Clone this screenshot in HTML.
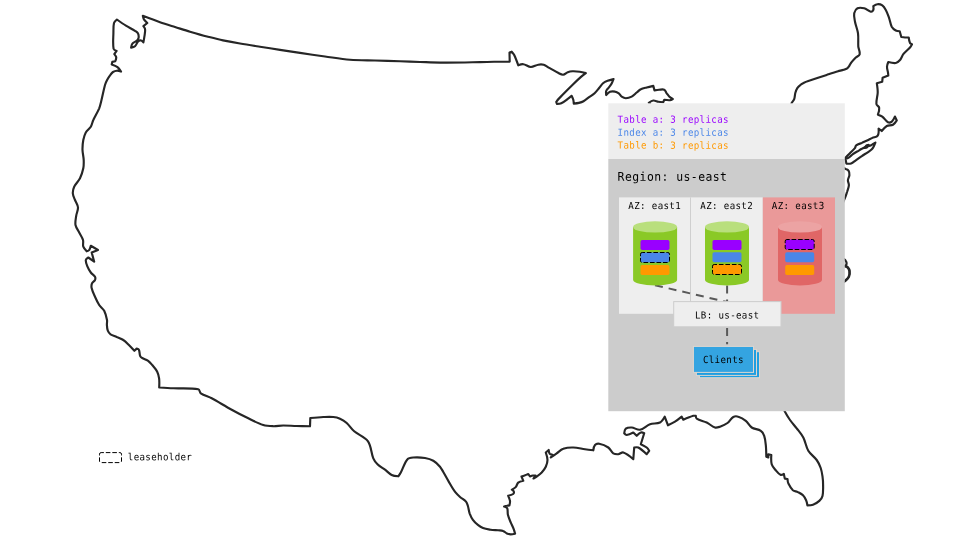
<!DOCTYPE html>
<html lang="en">
<head>
<meta charset="utf-8">
<title>Region us-east</title>
<style>
html,body{margin:0;padding:0;background:#fff;}
body{width:960px;height:540px;overflow:hidden;}
svg{display:block;will-change:transform;}
text{font-family:"DejaVu Sans Mono", "Liberation Mono", monospace;font-size:9.74px;letter-spacing:0.376px;fill:#000;}
.t{font-size:12.17px;letter-spacing:0.47px;}
</style>
</head>
<body>
<svg width="960" height="540" viewBox="0 0 960 540">
<rect width="960" height="540" fill="#fff"/>
<g fill="none" stroke="#262626" stroke-width="2.15" stroke-linejoin="round" stroke-linecap="round">
<path d="M655.0 110.0C655.0 110.0 648.8 102.8 648.8 102.8C648.8 102.8 651.7 100.7 653.3 100.5C654.9 100.3 656.7 101.4 658.3 101.7C659.9 102.0 663.2 102.2 663.2 102.2C663.2 102.2 664.3 99.8 664.3 99.8C664.3 99.8 668.2 100.4 670.0 100.2C671.0 100.1 672.8 99.0 672.8 99.0C672.8 99.0 670.2 97.5 669.2 96.5C668.3 95.6 667.5 94.3 666.7 93.3C665.9 92.2 665.5 90.3 664.2 89.7C662.7 89.0 660.7 89.7 659.0 89.8C657.6 89.9 654.5 90.4 654.5 90.4C654.5 90.4 653.3 85.9 653.3 85.9C653.3 85.9 648.8 86.9 646.7 87.5C644.8 88.0 642.6 88.4 640.8 89.3C639.3 90.0 638.0 91.5 636.7 92.5C635.1 93.8 633.5 95.6 631.7 96.6C630.0 97.5 627.8 98.2 625.8 98.2C624.4 98.2 622.9 97.4 621.7 96.6C620.5 95.8 619.9 94.2 618.8 93.4C617.7 92.6 616.3 91.8 615.0 91.6C613.4 91.3 611.5 91.2 610.0 91.8C608.5 92.4 606.2 95.0 606.2 95.0C606.2 95.0 605.8 92.2 606.2 91.0C606.6 89.8 607.8 88.8 608.5 87.8C609.4 86.6 610.6 85.4 611.3 84.1C612.2 82.6 613.5 79.1 613.5 79.1C613.5 79.1 609.4 80.1 607.6 80.8C606.0 81.4 604.3 82.2 603.0 83.3C601.6 84.5 600.5 86.4 599.3 87.8C597.8 89.6 596.3 91.7 594.6 93.3C593.0 94.8 590.9 95.9 589.1 97.2C587.3 98.5 585.4 100.1 583.5 101.2C582.1 102.0 580.4 102.5 578.9 102.9C577.3 103.3 573.8 103.6 573.8 103.6C573.8 103.6 573.6 101.0 573.3 99.8C572.9 98.5 571.6 95.8 571.6 95.8C571.6 95.8 569.1 98.0 567.8 98.9C565.8 100.4 563.6 102.2 561.3 103.2C560.0 103.8 557.0 103.9 557.0 103.9C557.0 103.9 556.0 102.3 556.4 101.7C558.1 99.0 560.9 96.6 563.1 94.3C566.0 91.3 569.4 87.9 572.4 85.0C575.0 82.4 578.0 79.5 580.7 77.1C582.3 75.7 585.8 73.1 585.8 73.1C585.8 73.1 581.8 72.0 579.8 71.7C577.4 71.4 574.8 71.2 572.4 71.3C570.9 71.4 569.2 71.7 567.8 72.2C566.2 72.8 564.8 74.6 563.1 74.7C561.5 74.8 559.9 73.7 558.5 73.0C555.5 71.5 552.2 69.5 549.3 67.9C547.5 66.9 545.7 65.4 543.7 64.8C542.0 64.3 540.0 64.4 538.3 64.7C535.8 65.1 533.3 67.1 530.8 67.0C528.2 66.9 525.8 64.5 523.3 64.2C521.7 64.0 518.3 65.3 518.3 65.3C518.3 65.3 515.7 58.2 514.2 55.0C513.6 53.8 511.7 51.7 511.7 51.7C511.7 51.7 509.5 52.5 509.5 52.5C509.5 52.5 509.7 61.6 509.7 61.6C509.7 61.6 499.0 61.7 494.0 61.8C489.5 61.9 484.5 62.0 480.0 62.1C475.2 62.2 469.8 62.4 465.0 62.5C457.0 62.6 448.0 62.7 440.0 62.6C433.6 62.5 426.4 62.2 420.0 62.0C413.6 61.8 406.4 61.5 400.0 61.3C392.0 61.0 383.0 60.7 375.0 60.5C367.0 60.3 358.0 60.4 350.0 59.8C342.0 59.2 333.0 57.6 325.0 56.5C317.0 55.4 308.0 54.1 300.0 52.9C293.6 52.0 286.4 50.9 280.0 49.9C273.6 48.9 266.4 47.7 260.0 46.7C253.6 45.7 246.4 44.6 240.0 43.5C234.5 42.6 228.4 41.5 223.0 40.4C217.8 39.3 212.1 37.8 207.0 36.5C201.5 35.1 195.4 33.3 190.0 31.7C185.2 30.3 179.8 28.5 175.0 27.0C170.2 25.5 164.8 23.9 160.0 22.2C154.5 20.3 142.8 15.8 142.8 15.8C142.8 15.8 143.4 18.6 144.1 19.7C144.9 20.9 147.3 23.0 147.3 23.0C147.3 23.0 143.4 26.2 143.4 26.2C143.4 26.2 145.0 28.3 145.1 29.5C145.3 31.5 144.8 33.9 144.5 35.9C144.2 38.0 143.4 42.4 143.4 42.4C143.4 42.4 142.1 40.7 141.2 40.5C140.3 40.3 139.0 40.5 138.3 41.1C136.9 42.4 136.5 45.0 135.0 46.3C134.0 47.2 131.1 47.6 131.1 47.6C131.1 47.6 131.6 44.7 132.4 43.7C133.5 42.3 135.7 41.7 137.0 40.5C137.7 39.8 138.5 38.9 138.6 37.9C138.8 36.4 138.6 34.6 137.9 33.3C137.3 32.2 136.0 31.5 135.0 30.8C132.2 29.0 128.7 27.4 125.9 25.6C122.9 23.8 116.9 19.5 116.9 19.5C116.9 19.5 114.4 21.6 114.0 23.0C113.2 26.2 113.5 30.0 113.4 33.3C113.3 38.3 112.7 44.0 113.6 48.9C113.8 50.0 116.6 50.9 116.6 50.9C116.6 50.9 114.3 54.1 114.3 54.1C114.3 54.1 116.0 56.1 116.2 57.3C116.4 58.6 115.3 61.2 115.3 61.2C115.3 61.2 112.3 61.9 112.3 61.9C112.3 61.9 111.7 64.5 111.7 64.5C111.7 64.5 115.9 65.9 117.5 67.1C119.0 68.2 121.0 71.6 121.0 71.6C121.0 71.6 118.2 70.6 116.9 70.7C115.6 70.8 114.1 71.3 113.0 72.0C112.0 72.7 111.1 73.9 110.4 74.9C109.2 76.5 108.0 78.3 107.1 80.0C106.3 81.5 105.5 83.3 105.0 85.0C103.7 89.7 102.7 95.2 101.5 100.0C100.8 102.7 100.2 105.7 99.2 108.3C97.6 112.2 95.0 116.2 93.3 120.0C92.3 122.1 92.0 124.7 90.8 126.7C89.5 128.8 87.0 130.4 85.8 132.5C84.6 134.7 83.8 137.5 83.3 140.0C82.7 143.2 82.4 146.8 82.5 150.0C82.6 153.2 83.6 156.8 83.7 160.0C83.8 162.7 83.8 165.7 83.3 168.3C82.6 171.6 81.5 175.3 80.0 178.3C78.6 181.2 75.6 183.8 74.2 186.7C73.3 188.6 72.7 191.1 72.8 193.3C72.9 195.6 74.2 197.9 75.0 200.0C75.9 202.4 77.8 204.9 78.0 207.5C78.2 210.2 76.6 213.1 76.2 215.8C75.8 218.7 75.0 222.1 75.5 225.0C76.0 227.6 78.0 230.1 79.2 232.5C80.4 234.9 82.3 237.4 83.0 240.0C83.6 242.1 82.6 244.7 83.3 246.7C83.9 248.4 86.7 251.3 86.7 251.3C86.7 251.3 88.7 250.7 89.2 250.0C90.1 248.8 90.8 245.8 90.8 245.8C90.8 245.8 98.0 250.0 98.0 250.0C98.0 250.0 91.7 252.5 91.7 252.5C91.7 252.5 94.2 261.7 94.2 261.7C94.2 261.7 88.3 257.5 88.3 257.5C88.3 257.5 85.9 258.9 85.8 260.0C85.6 262.2 86.7 264.6 87.5 266.7C88.3 268.7 89.5 270.8 90.8 272.5C91.9 274.0 94.1 275.0 95.0 276.7C95.5 277.6 95.4 279.0 95.0 280.0C94.4 281.3 92.5 282.0 92.0 283.3C91.4 284.8 91.3 286.7 91.7 288.3C92.3 291.1 93.8 294.1 95.0 296.7C96.2 299.4 97.6 302.5 99.2 305.0C100.5 307.1 103.1 308.6 104.2 310.8C105.6 313.5 106.4 317.0 107.0 320.0C107.3 321.6 106.8 323.4 106.9 325.0C107.0 326.8 107.1 328.9 107.8 330.6C108.4 332.0 109.4 333.5 110.6 334.4C112.3 335.6 114.8 336.1 116.7 337.0C118.8 337.9 121.4 338.7 123.3 340.0C125.3 341.3 127.2 343.3 128.9 345.0C130.7 346.8 134.4 350.8 134.4 350.8C134.4 350.8 136.7 348.6 136.7 348.6C136.7 348.6 138.6 349.0 138.9 349.7C139.8 351.6 139.4 354.2 140.2 356.1C140.5 356.9 141.4 357.6 142.2 358.0C143.9 359.0 146.2 359.5 147.8 360.6C149.4 361.7 150.9 363.5 152.2 365.0C153.9 367.0 156.0 369.3 157.2 371.7C158.2 373.7 158.8 376.1 159.1 378.3C159.5 381.2 159.2 387.5 159.2 387.5C159.2 387.5 168.8 388.1 173.3 388.3C181.3 388.6 190.4 387.8 198.3 389.2C199.8 389.5 199.5 392.4 200.8 393.3C204.0 395.5 208.3 396.5 211.7 398.3C218.2 401.8 225.2 406.2 231.7 409.7C236.9 412.6 242.9 415.7 248.3 418.3C253.0 420.6 258.3 423.4 263.3 425.0C266.4 426.0 270.1 426.1 273.3 426.2C276.5 426.3 280.1 425.5 283.3 425.5C287.6 425.5 292.4 425.9 296.7 426.0C301.0 426.1 310.0 426.3 310.0 426.3C310.0 426.3 310.3 418.0 310.3 418.0C310.3 418.0 319.1 417.2 323.3 417.0C326.5 416.9 330.1 416.7 333.3 417.0C335.5 417.2 338.0 417.8 340.0 418.7C342.3 419.7 344.8 421.3 346.7 423.0C349.4 425.4 351.5 429.0 354.2 431.3C358.3 434.9 364.9 436.8 368.0 441.3C371.3 446.0 371.1 453.0 373.3 458.3C374.2 460.4 375.8 462.6 377.5 464.2C379.6 466.3 382.6 467.9 385.0 469.7C387.2 471.4 389.3 473.8 391.7 475.0C393.6 476.0 398.3 476.3 398.3 476.3C398.3 476.3 400.1 473.8 400.8 472.5C403.1 468.3 404.4 462.9 407.5 459.2C408.7 457.7 411.4 457.6 413.3 457.5C417.0 457.2 421.3 457.4 425.0 458.0C427.8 458.5 430.9 459.4 433.3 460.8C435.8 462.2 438.1 464.6 440.0 466.7C441.3 468.2 442.3 470.3 443.3 472.0C445.2 475.2 447.1 478.9 449.0 482.1C450.9 485.4 453.0 489.2 455.3 492.2C456.7 494.0 458.6 495.7 460.3 497.2C462.0 498.7 464.5 499.9 466.0 501.6C467.0 502.8 467.4 504.5 467.9 506.0C468.6 508.4 468.9 511.2 469.7 513.6C470.5 515.7 471.6 518.1 472.9 519.9C474.2 521.7 476.1 523.5 477.9 524.9C479.4 526.1 481.2 527.3 483.0 528.0C485.3 528.9 488.1 529.3 490.5 529.7C492.9 530.1 495.7 530.1 498.1 530.3C499.7 530.5 501.6 530.3 503.1 530.9C504.5 531.4 505.6 532.9 506.9 533.5C508.0 534.0 509.5 534.3 510.7 534.3C512.1 534.3 515.1 533.7 515.1 533.7C515.1 533.7 514.3 530.7 513.8 529.3C512.9 527.0 511.6 524.6 510.7 522.4C509.7 520.0 508.5 517.3 507.9 514.8C507.5 513.1 507.8 511.0 507.5 509.2C507.4 508.7 507.3 508.2 506.9 507.9C506.1 507.3 504.1 506.6 504.1 506.6C504.1 506.6 506.0 506.0 506.9 505.8C507.7 505.6 509.4 505.4 509.4 505.4C509.4 505.4 510.2 502.4 510.0 501.0C509.8 499.2 508.2 495.7 508.2 495.7C508.2 495.7 511.8 495.0 513.2 494.0C513.9 493.5 514.0 492.3 513.8 491.5C513.6 490.7 511.9 489.6 511.9 489.6C511.9 489.6 514.7 488.2 515.7 487.1C516.8 485.9 517.0 483.7 518.2 482.7C519.5 481.6 523.3 480.8 523.3 480.8C523.3 480.8 521.5 476.5 521.5 476.5C521.5 476.5 523.6 475.8 524.5 475.5C525.7 475.0 528.3 474.0 528.3 474.0C528.3 474.0 530.0 476.5 530.0 476.5C530.0 476.5 532.0 475.7 533.0 475.5C533.8 475.4 535.5 475.5 535.5 475.5C535.5 475.5 533.5 478.5 533.5 478.5C533.5 478.5 535.9 477.1 537.0 476.3C538.6 475.2 540.4 473.9 541.7 472.5C543.2 470.8 544.8 468.8 545.8 466.7C546.7 464.7 547.5 462.2 547.5 460.0C547.5 457.5 545.8 452.5 545.8 452.5C545.8 452.5 548.7 450.0 548.7 450.0C548.7 450.0 548.9 452.7 549.7 453.7C550.3 454.4 552.5 454.7 552.5 454.7C552.5 454.7 550.8 457.5 550.8 457.5C550.8 457.5 554.8 454.6 556.7 453.3C558.8 451.8 560.9 449.6 563.3 448.8C566.3 447.7 570.1 447.4 573.3 447.5C577.1 447.6 581.3 448.7 585.0 449.2C587.7 449.6 593.3 450.3 593.3 450.3C593.3 450.3 593.8 446.3 595.0 445.0C595.9 444.0 597.8 443.4 599.2 443.7C602.3 444.3 605.7 445.7 608.3 447.5C610.3 448.9 611.3 451.9 613.3 453.3C614.7 454.2 616.7 454.3 618.3 454.2C620.0 454.1 621.7 452.0 623.3 452.5C627.0 453.7 633.3 459.2 633.3 459.2C633.3 459.2 634.2 447.5 634.2 447.5C634.2 447.5 637.1 446.9 638.3 447.5C641.3 449.1 646.7 454.2 646.7 454.2C646.7 454.2 649.2 450.8 649.2 450.8C649.2 450.8 647.7 448.3 646.7 447.5C645.0 446.2 640.8 444.2 640.8 444.2C640.8 444.2 644.2 433.3 644.2 433.3C644.2 433.3 641.9 432.1 640.8 432.5C639.2 433.0 636.7 435.8 636.7 435.8C636.7 435.8 633.3 432.5 633.3 432.5C633.3 432.5 628.9 434.8 626.7 435.0C625.7 435.1 624.2 433.3 624.2 433.3C624.2 433.3 624.6 429.7 625.8 428.7C627.3 427.5 629.8 427.4 631.7 427.5C634.4 427.7 637.3 430.2 640.0 429.7C643.6 429.1 646.6 425.4 650.0 424.2C653.1 423.1 657.1 424.0 660.0 422.5C662.1 421.4 664.7 416.7 664.7 416.7C664.7 416.7 668.0 425.3 668.0 425.3C668.0 425.3 672.9 423.0 675.0 421.7C677.3 420.3 681.7 416.7 681.7 416.7C681.7 416.7 683.3 419.7 683.3 419.7C683.3 419.7 690.0 416.8 693.3 415.8C694.1 415.6 695.8 415.8 695.8 415.8C695.8 415.8 695.9 418.2 696.7 418.7C699.6 420.5 703.6 421.0 706.7 422.5C709.5 423.8 712.0 426.6 715.0 427.5C716.5 428.0 718.5 427.2 720.0 426.7C722.5 425.8 725.3 424.6 727.5 423.0C729.7 421.4 731.0 418.3 733.3 417.0C734.7 416.2 736.8 416.2 738.3 416.7C740.9 417.5 743.7 419.1 745.8 420.8C748.0 422.6 749.3 425.9 751.7 427.5C754.3 429.2 758.2 429.1 760.8 430.8C762.4 431.9 763.6 434.0 764.2 435.8C765.2 438.6 765.5 442.0 765.8 445.0C766.2 448.7 766.3 456.7 766.3 456.7C766.3 456.7 768.3 457.5 768.3 457.5C768.3 457.5 768.3 454.2 768.3 454.2C768.3 454.2 771.3 455.0 771.3 455.0C771.3 455.0 770.9 461.4 771.7 464.2C772.3 466.3 774.1 468.3 775.5 470.0C776.9 471.7 778.5 473.9 780.5 474.8C781.5 475.3 783.8 473.8 783.8 473.8C783.8 473.8 784.8 478.6 784.8 478.6C784.8 478.6 787.5 479.0 787.5 479.0C787.5 479.0 787.7 482.2 788.4 483.6C789.5 485.9 791.0 488.5 792.9 490.2C794.2 491.3 796.4 491.3 797.9 492.1C799.6 493.0 801.6 493.9 803.0 495.3C804.3 496.6 805.3 498.6 806.1 500.3C806.8 501.8 807.4 505.3 807.4 505.3C807.4 505.3 811.3 505.3 813.0 504.7C815.2 503.9 817.6 502.5 819.3 500.9C820.7 499.6 822.1 497.7 822.5 495.9C823.3 492.6 823.1 488.6 823.1 485.2C823.1 482.4 822.9 479.2 822.5 476.4C822.1 473.7 821.6 470.6 820.7 468.0C819.7 465.3 818.4 462.3 816.7 460.0C814.4 456.8 810.3 454.2 808.3 450.8C806.0 446.9 805.4 441.5 803.3 437.5C801.6 434.3 798.9 431.2 796.7 428.3C794.6 425.6 792.0 422.8 790.0 420.0C788.1 417.3 786.2 414.2 784.7 411.3C783.7 409.4 782.0 405.0 782.0 405.0"/>
<path d="M790.0 110.0C790.0 110.0 790.9 105.1 791.7 103.0C792.2 101.6 793.7 100.6 794.2 99.2C794.9 97.3 794.8 94.9 795.3 93.0C795.8 91.4 796.4 89.6 797.3 88.2C798.0 87.1 799.0 86.1 800.0 85.3C801.0 84.4 802.3 83.6 803.5 83.0C805.0 82.2 806.7 81.5 808.3 81.0C814.2 79.0 820.8 76.8 826.7 74.9C830.3 73.7 834.4 72.3 838.1 71.2C839.9 70.7 841.9 70.4 843.7 69.8C844.9 69.4 846.2 69.0 847.2 68.3C848.1 67.7 848.7 66.7 849.3 65.8C850.0 64.8 850.6 63.4 851.4 62.4C852.7 60.7 854.3 59.0 855.8 57.5C857.0 56.4 859.3 55.8 859.7 54.2C860.3 51.8 858.5 49.1 858.3 46.7C858.0 42.4 858.6 37.6 858.0 33.3C857.5 29.5 855.7 25.5 855.0 21.7C854.5 19.0 853.7 16.0 854.2 13.3C854.6 11.4 855.8 9.2 857.5 8.3C859.4 7.3 862.1 7.8 864.2 8.3C866.5 8.9 868.5 11.3 870.8 11.7C871.8 11.9 872.9 10.9 873.3 10.0C873.8 8.9 873.3 6.1 873.3 6.1C873.3 6.1 876.0 4.3 877.5 4.2C879.1 4.1 881.0 4.5 882.3 5.4C883.8 6.5 884.9 8.4 885.8 10.0C887.2 12.5 888.2 15.6 889.2 18.3C890.1 20.9 890.4 24.2 891.7 26.7C892.6 28.3 894.2 29.6 895.8 30.5C896.9 31.1 899.7 31.3 899.7 31.3C899.7 31.3 901.3 37.0 901.3 37.0C901.3 37.0 903.8 37.4 905.0 37.5C906.2 37.6 908.7 37.5 908.7 37.5C908.7 37.5 909.2 41.4 910.0 43.0C910.3 43.7 912.0 44.2 912.0 44.2C912.0 44.2 910.8 46.6 910.0 47.5C908.0 49.8 905.2 51.8 903.3 54.2C902.0 55.9 901.4 58.4 900.0 60.0C898.9 61.3 897.4 62.7 895.8 63.0C893.4 63.4 888.3 62.0 888.3 62.0C888.3 62.0 887.0 65.1 887.0 66.7C886.9 68.6 887.7 70.6 888.0 72.5C888.1 73.5 888.3 75.5 888.3 75.5C888.3 75.5 882.6 77.8 882.6 77.8C882.6 77.8 882.2 81.8 882.2 81.8C882.2 81.8 876.8 83.2 876.8 83.2C876.8 83.2 877.8 89.6 877.7 92.7C877.6 96.3 876.0 100.4 876.4 104.0C876.5 105.5 879.0 106.3 879.2 107.8C879.5 110.0 877.9 114.7 877.9 114.7C877.9 114.7 881.1 115.7 882.3 116.6C884.4 118.2 885.7 121.1 888.0 122.3C889.1 122.9 890.8 122.4 891.8 121.6C893.3 120.4 894.9 116.6 894.9 116.6C894.9 116.6 896.8 120.4 896.8 120.4C896.8 120.4 894.6 123.9 893.0 124.8C891.2 125.8 888.6 125.0 886.8 126.0C884.8 127.1 881.7 131.0 881.7 131.0C881.7 131.0 878.6 128.6 878.6 128.6C878.6 128.6 879.0 133.7 877.7 135.6C876.7 137.1 874.1 137.1 872.4 137.9C870.9 138.6 869.2 139.5 867.7 140.2C865.8 141.1 863.7 142.0 861.8 142.9C860.0 143.7 857.8 144.2 856.2 145.4C855.4 146.0 855.5 147.4 854.9 148.1C853.5 149.9 851.5 151.6 849.9 153.2C848.4 154.7 846.7 156.4 845.2 157.9C843.5 159.5 840.0 163.0 840.0 163.0"/>
<path d="M845.5 158.8C845.5 158.8 846.4 163.6 846.4 163.6C846.4 163.6 849.7 163.9 851.1 163.4C852.8 162.8 854.3 161.3 855.8 160.3C857.7 159.0 859.8 157.4 861.8 156.1C863.6 154.8 865.8 153.6 867.7 152.3C869.0 151.4 870.7 150.5 871.8 149.3C872.8 148.3 873.5 146.8 874.2 145.5C874.7 144.6 875.4 142.6 875.4 142.6C875.4 142.6 873.3 143.7 872.4 144.3C871.6 144.8 870.9 145.7 870.0 145.8C869.4 145.9 868.3 144.9 868.3 144.9C868.3 144.9 866.7 146.2 865.9 146.7C864.6 147.5 863.1 148.1 861.8 148.8C860.8 149.3 859.7 150.0 858.8 150.6C856.9 151.7 854.7 152.8 852.9 154.1C851.5 155.1 850.2 156.7 848.7 157.6C847.8 158.2 845.5 158.8 845.5 158.8"/>
<path d="M864.8 148.0C864.8 148.0 865.7 146.0 866.5 145.4C867.0 145.0 868.6 145.2 868.6 145.2C868.6 145.2 867.7 146.9 867.0 147.4C866.4 147.8 864.8 148.0 864.8 148.0"/>
<path d="M840.0 166.0C840.0 166.0 843.6 167.9 845.3 168.8C846.3 169.4 847.9 169.7 848.5 170.7C849.3 171.9 849.5 173.7 849.4 175.1C849.3 176.8 848.0 178.5 847.9 180.2C847.8 181.8 849.0 183.6 848.9 185.2C848.8 187.3 847.8 189.5 847.2 191.5C846.6 193.3 846.0 195.4 845.3 197.2C844.3 199.7 842.0 205.0 842.0 205.0"/>
<path d="M842.0 258.0C842.0 258.0 844.5 259.2 845.3 260.2C846.1 261.2 846.7 262.7 846.6 264.0C846.6 264.8 845.0 265.9 845.0 265.9C845.0 265.9 847.2 266.5 847.9 267.2C848.8 268.2 849.5 269.6 849.7 270.9C849.9 272.7 849.8 274.9 849.1 276.6C848.5 278.1 847.2 279.3 846.0 280.4C844.9 281.4 842.0 283.0 842.0 283.0"/>
<path d="M844.0 266.3C844.0 266.3 846.7 266.8 847.6 267.6C848.5 268.4 849.1 269.8 849.3 271.0C849.5 272.7 849.5 274.7 848.8 276.3C848.2 277.8 846.7 279.1 845.5 280.2C844.8 280.8 843.0 281.5 843.0 281.5"/>
</g>
<!-- panel -->
<rect x="608.3" y="103.3" width="236.5" height="56" fill="#eeeeee"/>
<rect x="608.3" y="159" width="236.5" height="252.2" fill="#cccccc"/>
<text style="fill:#9900ff" transform="matrix(0.94 0.0005 0 1 617.6 122.8)">Table a: 3 replicas</text>
<text style="fill:#4a86e8" transform="matrix(0.94 0.0005 0 1 617.6 135.8)">Index a: 3 replicas</text>
<text style="fill:#ff9900" transform="matrix(0.94 0.0005 0 1 617.6 148.6)">Table b: 3 replicas</text>
<text class="t" transform="matrix(0.94 0.0005 0 1 617.6 180.8)">Region: us-east</text>
<!-- AZ boxes -->
<rect x="619" y="197.4" width="71.5" height="116.4" fill="#eeeeee"/>
<rect x="690.5" y="197.4" width="72.3" height="116.4" fill="#eeeeee"/>
<rect x="690" y="197.4" width="1" height="116.4" fill="#cfcfcf"/>
<rect x="762.8" y="197.4" width="72.2" height="116.4" fill="#ea9999"/>
<text text-anchor="middle" transform="matrix(0.94 0.0005 0 1 654.7 209.1)">AZ: east1</text>
<text text-anchor="middle" transform="matrix(0.94 0.0005 0 1 726.7 209.1)">AZ: east2</text>
<text text-anchor="middle" transform="matrix(0.94 0.0005 0 1 798.2 209.1)">AZ: east3</text>
<!-- connectors -->
<g stroke="#595959" stroke-width="2" stroke-dasharray="8 6" fill="none">
<line x1="655" y1="285.2" x2="727" y2="302"/>
<line x1="727.1" y1="285.5" x2="727.1" y2="302"/>
<line x1="727.1" y1="327.9" x2="727.1" y2="344.2"/>
</g>
<path d="M633.1 226.9 V279.8 A22 5.65 0 0 0 677.1 279.8 V226.9 Z" fill="#8ac926"/><ellipse cx="655.1" cy="226.9" rx="22" ry="5.65" fill="#b9df7d"/>
<path d="M705 226.9 V279.8 A22 5.65 0 0 0 749 279.8 V226.9 Z" fill="#8ac926"/><ellipse cx="727" cy="226.9" rx="22" ry="5.65" fill="#b9df7d"/>
<path d="M778 226.9 V279.8 A22 5.65 0 0 0 822 279.8 V226.9 Z" fill="#e06666"/><ellipse cx="800" cy="226.9" rx="22" ry="5.65" fill="#eca3a3"/>
<rect x="640.5" y="240" width="29" height="10" rx="1.7" fill="#9900ff"/><rect x="640.5" y="252.5" width="29" height="10" rx="1.7" fill="#4a86e8" stroke="#000" stroke-width="1" stroke-dasharray="4.6 1.9" stroke-dashoffset="1.8"/><rect x="640.5" y="265" width="29" height="10" rx="1.7" fill="#ff9900"/>
<rect x="712.5" y="240" width="29" height="10" rx="1.7" fill="#9900ff"/><rect x="712.5" y="252.2" width="29" height="10" rx="1.7" fill="#4a86e8"/><rect x="712.5" y="264.5" width="29" height="10" rx="1.7" fill="#ff9900" stroke="#000" stroke-width="1" stroke-dasharray="4.6 1.9" stroke-dashoffset="1.8"/>
<rect x="785.2" y="239.5" width="29" height="10" rx="1.7" fill="#9900ff" stroke="#000" stroke-width="1" stroke-dasharray="4.6 1.9" stroke-dashoffset="1.8"/><rect x="785.2" y="252.2" width="29" height="10" rx="1.7" fill="#4a86e8"/><rect x="785.2" y="265" width="29" height="10" rx="1.7" fill="#ff9900"/>
<!-- LB -->
<rect x="673.7" y="301.6" width="107.3" height="25.2" fill="#eeeeee" stroke="#cdcdcd" stroke-width="1"/>
<text text-anchor="middle" transform="matrix(0.94 0.0005 0 1 727.2 318.6)">LB: us-east</text>
<!-- Clients -->
<rect x="699.4" y="351.7" width="60.1" height="26" fill="#1f9ee0" stroke="#ddd6d0" stroke-width="1"/>
<rect x="696.4" y="349.4" width="60.1" height="26" fill="#1f9ee0" stroke="#ddd6d0" stroke-width="1"/>
<rect x="693.4" y="346.4" width="60.1" height="26" fill="#34a4e1" stroke="#ddd6d0" stroke-width="1"/>
<text text-anchor="middle" transform="matrix(0.94 0.0005 0 1 723.4 363.1)">Clients</text>
<!-- legend -->
<rect x="99.5" y="452.6" width="22" height="10" rx="1.6" fill="none" stroke="#000" stroke-width="1" stroke-dasharray="4.6 1.9" stroke-dashoffset="1.8"/>
<text transform="matrix(0.94 0.0005 0 1 127.8 460.3)">leaseholder</text>
</svg>
</body>
</html>
